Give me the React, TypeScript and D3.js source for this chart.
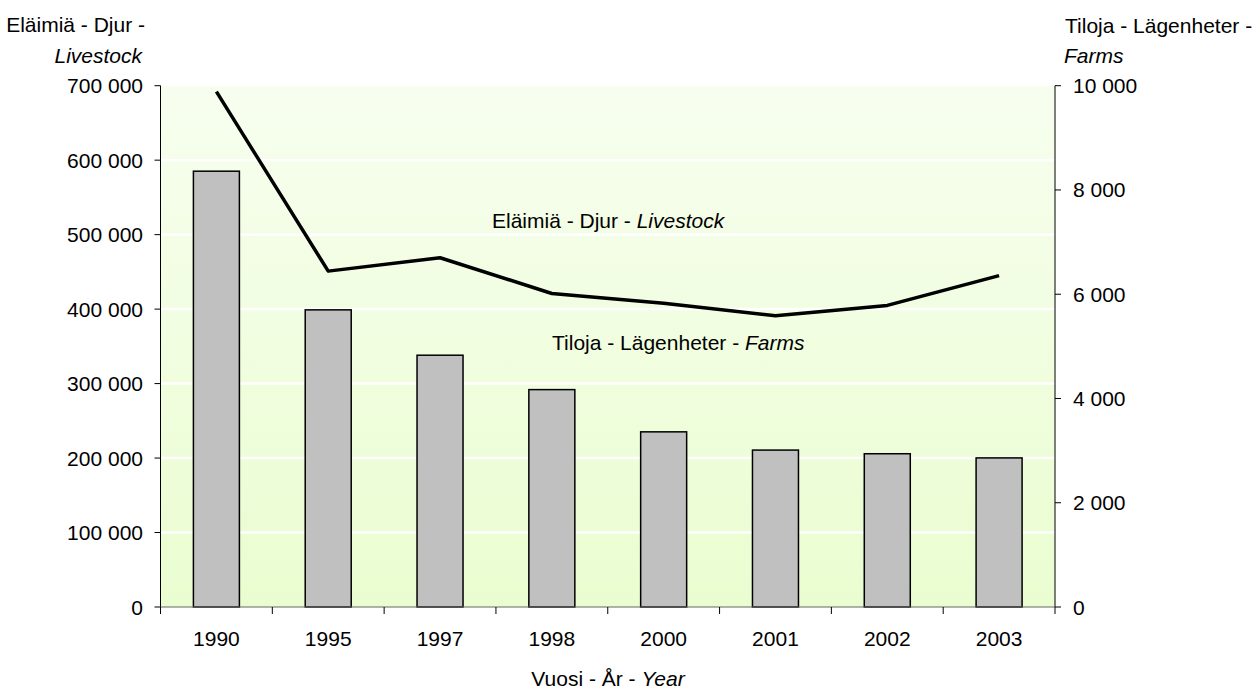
import React from "react";
import * as d3 from "d3";

const years = ["1990", "1995", "1997", "1998", "2000", "2001", "2002", "2003"];
const farms = [8360, 5700, 4830, 4170, 3360, 3010, 2940, 2860];
const livestock = [692000, 451000, 469000, 421000, 408000, 391000, 405000, 445000];
const leftTicks = [0, 100000, 200000, 300000, 400000, 500000, 600000, 700000];
const rightTicks = [0, 2000, 4000, 6000, 8000, 10000];

const W = 1257, H = 689;
const L = 160.5, R = 1055, T = 85.7, B = 607;
const FONT = "'Liberation Sans', Arial, sans-serif";
const FS = 21;

const fmt = (v: number) => d3.format(",")(v).replace(/,/g, " ");

export default function App() {
  const x = d3.scaleBand<string>().domain(years).range([L, R]).paddingInner(0).paddingOuter(0);
  const yL = d3.scaleLinear().domain([0, 700000]).range([B, T]);
  const yR = d3.scaleLinear().domain([0, 10000]).range([B, T]);
  const barW = 46;
  const line = d3
    .line<number>()
    .x((_, i) => (x(years[i]) as number) + x.bandwidth() / 2)
    .y((d) => yL(d));
  const bounds = years.map((y) => x(y) as number).concat([R]);

  return (
    <svg width={W} height={H} style={{ position: "absolute", left: 0, top: 0, background: "#fff" }} fontFamily={FONT} fontSize={FS}>
      <defs>
        <linearGradient id="bg" x1="0" y1="0" x2="0" y2="1">
          <stop offset="0" stopColor="#F7FEEF" />
          <stop offset="1" stopColor="#EAFDD0" />
        </linearGradient>
      </defs>
      <rect x={L} y={T} width={R - L} height={B - T} fill="url(#bg)" />
      {leftTicks.slice(1, -1).map((t) => (
        <line key={t} x1={L} x2={R} y1={yL(t)} y2={yL(t)} stroke="#fff" strokeWidth={2.5} />
      ))}
      {years.map((y, i) => (
        <rect
          key={y}
          x={(x(y) as number) + x.bandwidth() / 2 - barW / 2}
          y={yR(farms[i])}
          width={barW}
          height={B - yR(farms[i])}
          fill="#C0C0C0"
          stroke="#000"
          strokeWidth={1.5}
        />
      ))}
      <path d={line(livestock) as string} fill="none" stroke="#000" strokeWidth={3.5} strokeLinejoin="round" />
      {/* left axis */}
      <line x1={L} x2={L} y1={T} y2={B} stroke="#000" strokeWidth={1} />
      {leftTicks.map((t) => (
        <g key={t}>
          <line x1={L - 6} x2={L} y1={yL(t)} y2={yL(t)} stroke="#000" />
          <text x={143} y={yL(t) + 7.5} textAnchor="end">{fmt(t)}</text>
        </g>
      ))}
      {/* right axis */}
      <line x1={R} x2={R} y1={T} y2={B} stroke="#000" strokeWidth={1} />
      {rightTicks.map((t) => (
        <g key={t}>
          <line x1={R} x2={R + 6} y1={yR(t)} y2={yR(t)} stroke="#000" />
          <text x={1073} y={yR(t) + 7.5} textAnchor="start">{fmt(t)}</text>
        </g>
      ))}
      {/* x axis */}
      <line x1={L} x2={R} y1={B} y2={B} stroke="#666" strokeWidth={1} />
      {bounds.map((b, i) => (
        <line key={i} x1={b} x2={b} y1={B} y2={B + 7} stroke="#000" />
      ))}
      {years.map((y) => (
        <text key={y} x={(x(y) as number) + x.bandwidth() / 2} y={646} textAnchor="middle">{y}</text>
      ))}
      {/* titles */}
      <text x={145} y={32} textAnchor="end">Eläimiä - Djur -</text>
      <text x={142} y={63} textAnchor="end" fontStyle="italic">Livestock</text>
      <text x={1065} y={33}>Tiloja - Lägenheter -</text>
      <text x={1064} y={63} fontStyle="italic">Farms</text>
      <text x={608} y={686} textAnchor="middle">
        Vuosi - År - <tspan fontStyle="italic">Year</tspan>
      </text>
      <text x={492} y={228}>
        Eläimiä - Djur - <tspan fontStyle="italic">Livestock</tspan>
      </text>
      <text x={552} y={350}>
        Tiloja - Lägenheter - <tspan fontStyle="italic">Farms</tspan>
      </text>
    </svg>
  );
}
